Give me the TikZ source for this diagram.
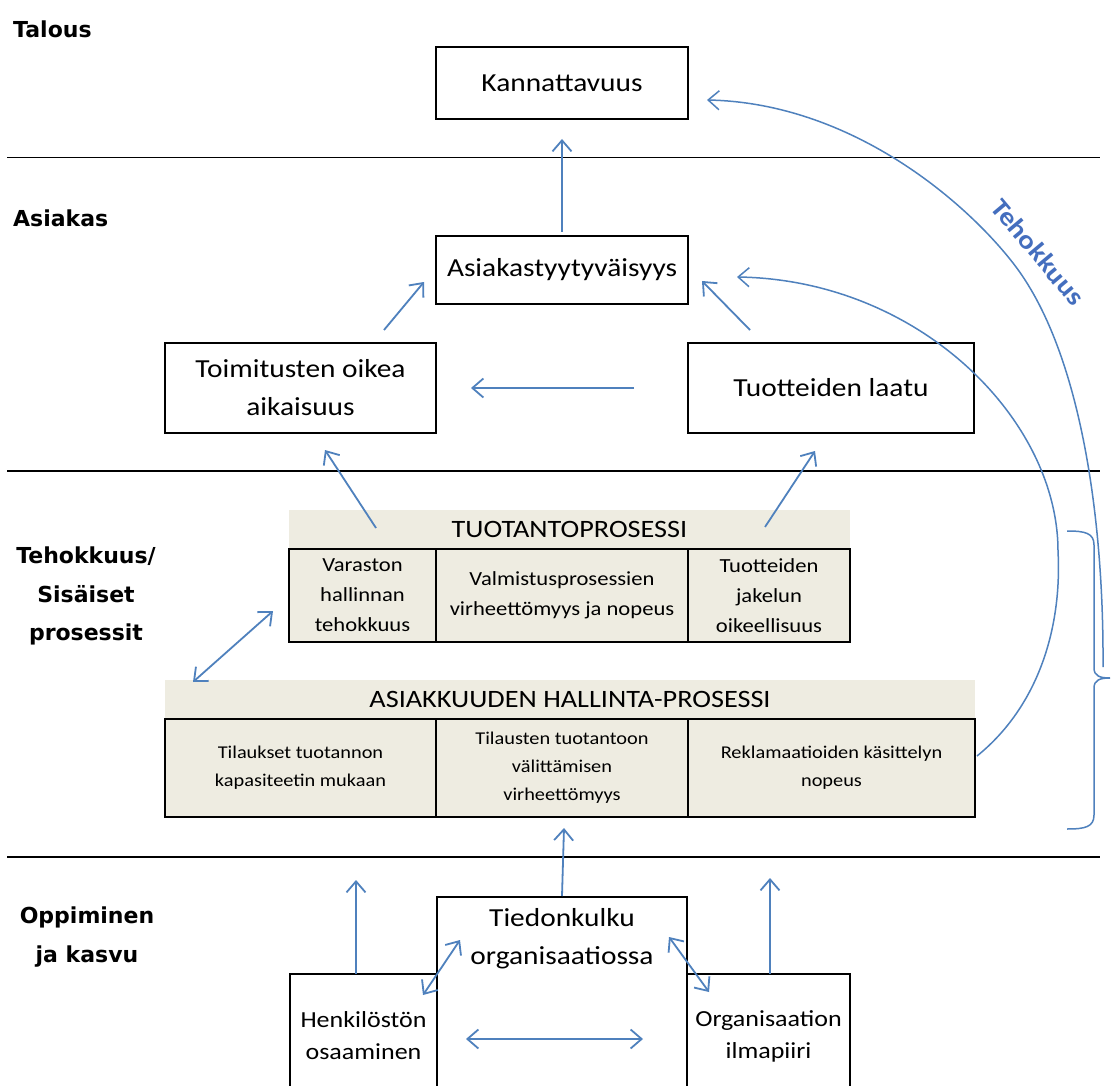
\documentclass[tikz,border=0pt]{standalone}
\usepackage{fontspec}
\setmainfont{Carlito}[FakeStretch=1.13]
\newfontfamily\labfont{DejaVu Sans}
\usetikzlibrary{arrows.meta}
\definecolor{ablue}{RGB}{79,129,189}
\definecolor{tblue}{RGB}{68,110,190}
\definecolor{beige}{RGB}{238,236,225}
\tikzset{
  box/.style={draw=black, line width=2pt, inner sep=0pt, align=center,
    font=\fontsize{26}{38}\selectfont},
  hdr/.style={fill=beige, inner sep=0pt, align=center,
    font=\fontsize{25}{30}\selectfont},
  cellA/.style={draw=black, fill=beige, line width=2pt, inner sep=0pt, align=center,
    font=\fontsize{20}{30}\selectfont},
  cellB/.style={draw=black, fill=beige, line width=2pt, inner sep=0pt, align=center,
    font=\fontsize{18}{28}\selectfont},
  lowbox/.style={draw=black, line width=2pt, inner sep=0pt, align=center,
    font=\fontsize{23}{32}\selectfont},
  lab/.style={inner sep=0pt, align=center, font=\labfont\bfseries\fontsize{22}{38.5}\selectfont},
  sep/.style={draw=black, line width=1.6pt},
  arr/.style={draw=ablue, line width=1.8pt, -{Straight Barb[length=11pt,width=19pt]}},
  darr/.style={draw=ablue, line width=1.8pt, {Straight Barb[length=11pt,width=19pt]}-{Straight Barb[length=11pt,width=19pt]}},
  curv/.style={draw=ablue, line width=1.5pt, -{Straight Barb[length=11pt,width=19pt]}},
}
\begin{document}
\begin{tikzpicture}[x=1pt,y=-1pt]
\useasboundingbox (0,0) rectangle (1112,1086);
\path[clip] (0,0) rectangle (1112,1086);
\fill[white] (0,0) rectangle (1112,1086);

% separators
\draw[sep] (7,157.5) -- (1100,157.5);
\draw[sep] (7,471) -- (1100,471);
\draw[sep] (7,857) -- (1100,857);

% left labels
\node[lab, anchor=west] (lTalous) at (13,29) {Talous};
\node[lab, anchor=west] (lAsiakas) at (13,218) {Asiakas};
\node[lab] (lTeho) at (86,596) {Tehokkuus/\\Sisäiset\\prosessit};
\node[lab] (lOpp) at (87,937) {Oppiminen\\ja kasvu};

% top boxes
\node[box, minimum width=252pt, minimum height=72pt] (kann) at (562,83) {Kannattavuus};
\node[box, minimum width=252pt, minimum height=68pt] (asia) at (562,270) {Asiakastyytyväisyys};
\node[box, minimum width=271pt, minimum height=90pt] (toim) at (300.5,388) {Toimitusten oikea\\aikaisuus};
\node[box, minimum width=286pt, minimum height=90pt] (laatu) at (831,388) {Tuotteiden laatu};

% Tuotantoprosessi
\node[hdr, minimum width=561pt, minimum height=38pt] (tuot) at (569.5,529) {TUOTANTOPROSESSI};
\node[cellA, minimum width=147pt, minimum height=93pt] (c11) at (362.5,595.5) {Varaston\\hallinnan\\tehokkuus};
\node[cellA, minimum width=252pt, minimum height=93pt] (c12) at (562,595.5) {Valmistusprosessien\\virheettömyys ja nopeus};
\node[cellA, minimum width=162pt, minimum height=93pt] (c13) at (769,595.5) {Tuotteiden\\jakelun\\oikeellisuus};

% Asiakkuuden hallinta
\node[hdr, minimum width=810pt, minimum height=38pt] (asha) at (570,699) {ASIAKKUUDEN HALLINTA-PROSESSI};
\node[cellB, minimum width=271pt, minimum height=98pt] (c21) at (300.5,768) {Tilaukset tuotannon\\kapasiteetin mukaan};
\node[cellB, minimum width=252pt, minimum height=98pt] (c22) at (562,768) {Tilausten tuotantoon\\välittämisen\\virheettömyys};
\node[cellB, minimum width=287pt, minimum height=98pt] (c23) at (831.5,768) {Reklamaatioiden käsittelyn\\nopeus};

% bottom boxes
\node[lowbox, minimum width=250pt, minimum height=213pt] (tied) at (562,1003.5) {};
\node[inner sep=0pt, align=center, font=\fontsize{26}{38}\selectfont] (tiedtxt) at (562,939) {Tiedonkulku\\organisaatiossa};
\node[lowbox, minimum width=147pt, minimum height=124pt] (henk) at (363.5,1036) {Henkilöstön\\osaaminen};
\node[lowbox, minimum width=163pt, minimum height=124pt] (org) at (768.5,1036) {Organisaation\\ilmapiiri};

% coordinates
\coordinate (a2s) at (384,330); \coordinate (a2e) at (424,282);
\coordinate (a3s) at (750,330); \coordinate (a3e) at (702,281);
\coordinate (a4s) at (634,388); \coordinate (a4e) at (471,388);
\coordinate (a5s) at (376,528); \coordinate (a5e) at (325,450);
\coordinate (a6s) at (765,527); \coordinate (a6e) at (815,451);
\coordinate (a7s) at (193,682); \coordinate (a7e) at (273,611);
\coordinate (a8e) at (564,828);
\coordinate (a9s) at (356,974); \coordinate (a9e) at (356,880);
\coordinate (a10s) at (770,974); \coordinate (a10e) at (770,878);
\coordinate (a11s) at (423,995); \coordinate (a11e) at (460,940);
\coordinate (a12s) at (669,937); \coordinate (a12e) at (709,992);
\coordinate (a13s) at (466,1039); \coordinate (a13e) at (643,1039);
\coordinate (innS) at (977,756); \coordinate (innM) at (1058,551); \coordinate (innE) at (737,277);
\coordinate (outS) at (1103,667); \coordinate (outM) at (1013,263); \coordinate (outE) at (707,100);

% arrows
\draw[arr, shorten >=19pt, shorten <=3pt] (asia.north) -- (kann.south);
\draw[arr] (a2s) -- (a2e);
\draw[arr] (a3s) -- (a3e);
\draw[arr] (a4s) -- (a4e);
\draw[arr] (a5s) -- (a5e);
\draw[arr] (a6s) -- (a6e);
\draw[darr] (a7s) -- (a7e);
\draw[arr] (tied.north) -- (a8e);
\draw[arr] (a9s) -- (a9e);
\draw[arr] (a10s) -- (a10e);
\draw[darr] (a11s) -- (a11e);
\draw[darr] (a12s) -- (a12e);
\draw[darr] (a13s) -- (a13e);

% curves
\draw[curv] (innS) .. controls (1040,705) and (1062,625) .. (innM)
  .. controls (1058,420) and (920,280) .. (innE);
\draw[curv] (outS) .. controls (1104,520) and (1081,350) .. (outM)
  .. controls (964,200) and (850,103) .. (outE);
\node[text=tblue, font=\bfseries\fontsize{26}{30}\selectfont, rotate=-50, inner sep=0pt] (teho) at (1038,252) {Tehokkuus};

% bracket
\draw[draw=ablue, line width=1.5pt] (1067,531) .. controls (1085,531) and (1094,533) .. (1094,545)
  -- (1094,668) .. controls (1094,676) and (1100,678) .. (1110,678)
  .. controls (1100,678) and (1094,680) .. (1094,688)
  -- (1094,815) .. controls (1094,827) and (1085,829) .. (1067,829);
\end{tikzpicture}
\end{document}
